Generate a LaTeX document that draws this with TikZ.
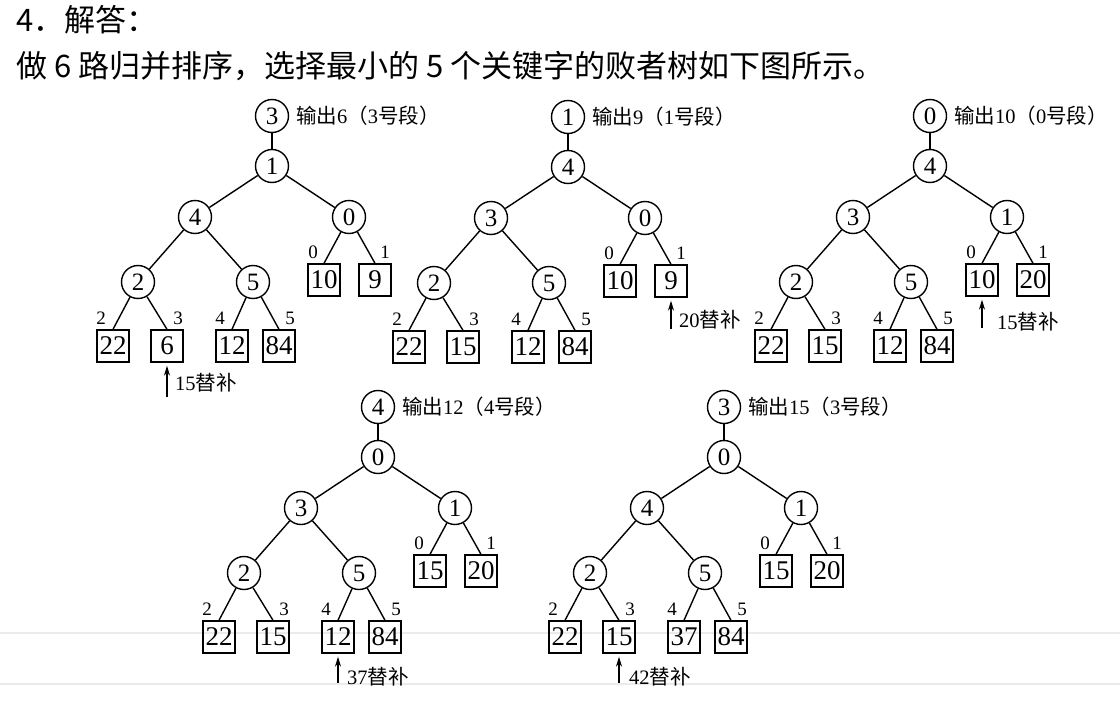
\documentclass[tikz,border=0pt]{standalone}
\usepackage{fontspec}
\setmainfont{Liberation Serif}
\newfontfamily\cjk{Noto Sans CJK SC}
\usetikzlibrary{arrows.meta}

\tikzset{
  circ/.style={circle, draw, line width=1.4pt, minimum size=33pt, inner sep=0pt,
               font=\fontsize{25}{25}\selectfont},
  leaf/.style={rectangle, draw, line width=1.4pt, minimum size=32pt, inner sep=0pt,
               font=\fontsize{27}{27}\selectfont},
  idx/.style={inner sep=0pt, font=\fontsize{19}{19}\selectfont},
  edge/.style={line width=1.4pt},
  note/.style={anchor=west, inner sep=0pt, font=\fontsize{20.5}{20.5}\selectfont},
  repl/.style={line width=1.4pt, -{Stealth[length=10pt,width=6pt]}, shorten >=3pt},
  head/.style={anchor=west, inner sep=0pt, font=\cjk\fontsize{31}{31}\selectfont},
  rule/.style={black!8, line width=2pt},
}

% One loser tree of a 6-way merge: #1 name prefix, #2 winner, #3 root,
% #4 left loser, #5 right loser, #6/#7 keys of runs 0/1, #8/#9 keys of runs 3/4
\newcommand\losertree[9]{%
  \node[circ] (#1t) at (0,0) {#2};
  \node[circ] (#1r) at (0,50) {#3};
  \node[circ] (#1a) at (-77,101) {#4};
  \node[circ] (#1b) at (77,101) {#5};
  \node[circ] (#1c) at (-134,166) {2};
  \node[circ] (#1d) at (-19,166) {5};
  \node[leaf] (#1s0) at (52,164) {#6};
  \node[leaf] (#1s1) at (103,164) {#7};
  \node[leaf] (#1s2) at (-159,230) {22};
  \node[leaf] (#1s3) at (-105,230) {#8};
  \node[leaf] (#1s4) at (-40,230) {#9};
  \node[leaf] (#1s5) at (7,230) {84};
  \node[idx] (#1i0) at (41,136) {0};
  \node[idx] (#1i1) at (113,136) {1};
  \node[idx] (#1i2) at (-171,202) {2};
  \node[idx] (#1i3) at (-94,202) {3};
  \node[idx] (#1i4) at (-52,202) {4};
  \node[idx] (#1i5) at (18,202) {5};
  \draw[edge] (#1t) -- (#1r);
  \draw[edge] (#1r) -- (#1a);
  \draw[edge] (#1r) -- (#1b);
  \draw[edge] (#1a) -- (#1c);
  \draw[edge] (#1a) -- (#1d);
  \draw[edge] (#1b) -- (#1s0.north);
  \draw[edge] (#1b) -- (#1s1.north);
  \draw[edge] (#1c) -- (#1s2.north);
  \draw[edge] (#1c) -- (#1s3.north);
  \draw[edge] (#1d) -- (#1s4.north);
  \draw[edge] (#1d) -- (#1s5.north);
}

\begin{document}
\begin{tikzpicture}[x=1pt, y=-1pt]
  \fill[white] (0,0) rectangle (1120,704);
  \useasboundingbox (0,0) rectangle (1120,704);

  % faint ruling of the page
  \draw[rule] (0,633) -- (1120,633);
  \draw[rule] (0,684) -- (1120,684);

  % heading
  \node[head] (h1) at (16,20) {4．解答：};
  \node[head] (h2) at (16,66) {做 6 路归并排序，选择最小的 5 个关键字的败者树如下图所示。};

  % tree 1: output 6
  \begin{scope}[shift={(272,116)}]
    \losertree{ta}{3}{1}{4}{0}{10}{9}{6}{12}
    \node[note] (tao) at (24,0) {{\cjk 输出}6{\cjk （}3{\cjk 号段）}};
    \coordinate (taq) at (-105,281);
    \draw[repl] (taq) -- (tas3.south);
    \node[note] (tan) at (-97,267) {15{\cjk 替补}};
  \end{scope}

  % tree 2: output 9
  \begin{scope}[shift={(568,117)}]
    \losertree{tb}{1}{4}{3}{0}{10}{9}{15}{12}
    \node[note] (tbo) at (24,0) {{\cjk 输出}9{\cjk （}1{\cjk 号段）}};
    \coordinate (tbq) at (103,212);
    \draw[repl] (tbq) -- (tbs1.south);
    \node[note] (tbn) at (111,203) {20{\cjk 替补}};
  \end{scope}

  % tree 3: output 10
  \begin{scope}[shift={(930,116)}]
    \losertree{tc}{0}{4}{3}{1}{10}{20}{15}{12}
    \node[note] (tco) at (24,0) {{\cjk 输出}10{\cjk （}0{\cjk 号段）}};
    \coordinate (tcq) at (52,212);
    \draw[repl] (tcq) -- (tcs0.south);
    \node[note] (tcn) at (67,206) {15{\cjk 替补}};
  \end{scope}

  % tree 4: output 12
  \begin{scope}[shift={(378,407)}]
    \losertree{td}{4}{0}{3}{1}{15}{20}{15}{12}
    \node[note] (tdo) at (24,0) {{\cjk 输出}12{\cjk （}4{\cjk 号段）}};
    \coordinate (tdq) at (-40,276);
    \draw[repl] (tdq) -- (tds4.south);
    \node[note] (tdn) at (-31,270) {37{\cjk 替补}};
  \end{scope}

  % tree 5: output 15
  \begin{scope}[shift={(724,407)}]
    \losertree{te}{3}{0}{4}{1}{15}{20}{15}{37}
    \node[note] (teo) at (24,0) {{\cjk 输出}15{\cjk （}3{\cjk 号段）}};
    \coordinate (teq) at (-105,276);
    \draw[repl] (teq) -- (tes3.south);
    \node[note] (ten) at (-95,270) {42{\cjk 替补}};
  \end{scope}
\end{tikzpicture}
\end{document}
